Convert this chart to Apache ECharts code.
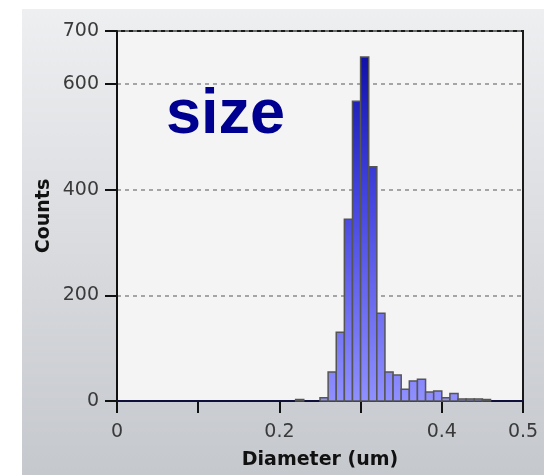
<!DOCTYPE html>
<html>
<head>
<meta charset="utf-8">
<script src="https://cdn.jsdelivr.net/npm/echarts@6/dist/echarts.min.js"></script>
<style>
  html, body { margin: 0; padding: 0; background: #ffffff; }
  #chart { width: 544px; height: 475px; }
</style>
</head>
<body>
<div id="chart"></div>
<script>
// Histogram bins (lower edge, um) and particle counts per 0.01 um bin
const binStart = [0.22, 0.25, 0.26, 0.27, 0.28, 0.29, 0.30, 0.31, 0.32, 0.33, 0.34, 0.35, 0.36, 0.37, 0.38, 0.39, 0.40, 0.41, 0.42, 0.43, 0.44, 0.45];
const counts   = [3,    6,    55,   130,  344,  567,  651,  443,  166,  55,   49,   22,   38,   41,   17,   19,   6,    14,   4,    4,    4,    3];
const binWidth = 0.01;

// Axis tick labels
const xTickLabels = ['0', '0.2', '0.4', '0.5'];
const yMax = 700;

const histData = binStart.map((s, i) => [s, +(s + binWidth).toFixed(3), counts[i]]);

const chart = echarts.init(document.getElementById('chart'), null, { renderer: 'canvas' });

const barFill = new echarts.graphic.LinearGradient(0, 31, 0, 402, [
  { offset: 0, color: '#0808a0' },
  { offset: 0.45, color: '#4444e0' },
  { offset: 1, color: '#9090ff' }
], true);

chart.setOption({
  animation: false,
  backgroundColor: '#ffffff',
  graphic: [
    {
      type: 'rect',
      z: -10,
      shape: { x: 22, y: 9, width: 522, height: 466 },
      style: {
        fill: new echarts.graphic.LinearGradient(0, 0, 0, 1, [
          { offset: 0, color: '#eeeff1' },
          { offset: 1, color: '#c5c8cd' }
        ])
      },
      silent: true
    },
    {
      type: 'text',
      left: 166,
      top: 84,
      z: 20,
      style: {
        text: 'size',
        fill: '#000090',
        font: 'bold 63px "Liberation Sans", Arial, sans-serif'
      }
    }
  ],
  grid: {
    left: 117,
    top: 31,
    right: 21,
    bottom: 73,
    show: true,
    backgroundColor: '#f4f4f4',
    borderColor: '#1a1a1a',
    borderWidth: 2
  },
  xAxis: {
    type: 'value',
    min: 0,
    max: 0.5,
    interval: 0.1,
    name: 'Diameter (um)',
    nameLocation: 'middle',
    nameGap: 50,
    nameMoveOverlap: false,
    nameTextStyle: {
      fontFamily: '"DejaVu Sans", sans-serif',
      fontWeight: 'bold',
      fontSize: 19,
      color: '#111'
    },
    axisLine: { show: true, onZero: false, lineStyle: { color: '#10103a', width: 2 } },
    axisTick: { show: true, length: 12, lineStyle: { color: '#111', width: 2 } },
    axisLabel: {
      margin: 22,
      fontFamily: '"DejaVu Sans", sans-serif',
      fontSize: 19,
      color: '#3a3a3a',
      showMaxLabel: true,
      formatter: function (v) {
        const s = String(+v.toFixed(2));
        return xTickLabels.indexOf(s) >= 0 ? s : '';
      }
    },
    splitLine: { show: false }
  },
  yAxis: {
    type: 'value',
    min: 0,
    max: yMax,
    interval: 200,
    name: 'Counts',
    nameLocation: 'middle',
    nameGap: 63,
    nameMoveOverlap: false,
    nameRotate: 90,
    nameTextStyle: {
      fontFamily: '"DejaVu Sans", sans-serif',
      fontWeight: 'bold',
      fontSize: 19,
      color: '#111'
    },
    axisLine: { show: true, lineStyle: { color: '#111', width: 2 } },
    axisTick: { show: true, length: 12, lineStyle: { color: '#111', width: 2 } },
    axisLabel: {
      margin: 18,
      fontFamily: '"DejaVu Sans", sans-serif',
      fontSize: 19,
      color: '#3a3a3a',
      showMaxLabel: true
    },
    splitLine: {
      show: true,
      lineStyle: { color: '#8a8a8a', width: 1.5, type: [4, 4] }
    }
  },
  series: [{
    type: 'custom',
    data: histData,
    encode: { x: [0, 1], y: 2 },
    z: 5,
    renderItem: function (params, api) {
      const p0 = api.coord([api.value(0), api.value(2)]);
      const p1 = api.coord([api.value(1), 0]);
      return {
        type: 'rect',
        shape: { x: p0[0], y: p0[1], width: p1[0] - p0[0], height: p1[1] - p0[1] },
        style: { fill: barFill, stroke: '#555555', lineWidth: 1.5 }
      };
    }
  }]
});
</script>
</body>
</html>
